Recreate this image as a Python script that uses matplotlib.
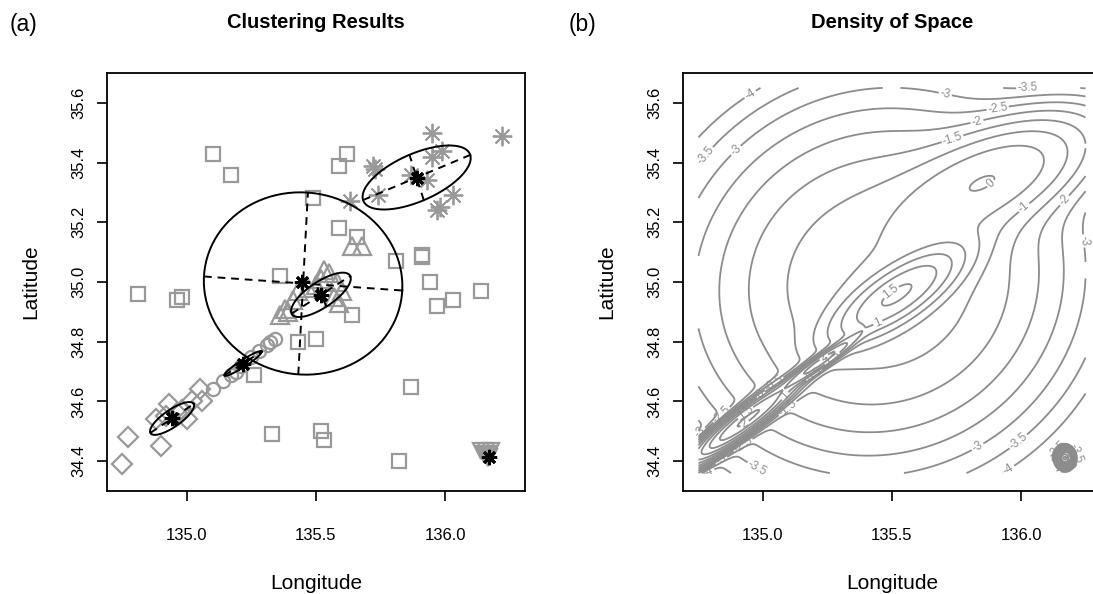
import numpy as np
import matplotlib.pyplot as plt

plt.rcParams["font.family"] = ["Liberation Sans", "DejaVu Sans"]
plt.rcParams["contour.negative_linestyle"] = "solid"

# ---- panel (a): clustered points (lon, lat) ----
sq_lon = [135.10, 135.17, 135.49, 135.36, 134.81, 134.96, 134.98, 135.62, 135.59, 135.59,
          135.66, 135.81, 135.91, 135.91, 135.94, 136.14, 136.03, 135.97, 135.64, 135.50,
          135.43, 135.87, 135.52, 135.53, 135.82, 135.26, 135.33]
sq_lat = [35.43, 35.36, 35.28, 35.02, 34.96, 34.94, 34.95, 35.43, 35.39, 35.18,
          35.15, 35.07, 35.09, 35.085, 35.00, 34.97, 34.94, 34.92, 34.89, 34.81,
          34.80, 34.65, 34.50, 34.47, 34.40, 34.69, 34.49]

tri_lon = [135.36, 135.38, 135.39, 135.41, 135.43, 135.47, 135.52, 135.55, 135.53, 135.58,
           135.59, 135.57, 135.64, 135.68, 135.50, 135.60]
tri_lat = [34.89, 34.91, 34.90, 34.94, 34.97, 34.98, 35.01, 35.03, 35.04, 35.00,
           34.93, 34.95, 35.12, 35.12, 34.99, 34.97]

circ_lon = [135.10, 135.14, 135.17, 135.19, 135.21, 135.25, 135.28, 135.31, 135.32, 135.34]
circ_lat = [34.64, 34.67, 34.69, 34.70, 34.72, 34.75, 34.77, 34.79, 34.80, 34.81]

dia_lon = [134.77, 134.90, 134.75, 134.93, 134.88, 135.00, 135.06, 135.05, 134.92, 134.96,
           134.98, 135.02]
dia_lat = [34.48, 34.45, 34.39, 34.59, 34.54, 34.54, 34.60, 34.64, 34.55, 34.56,
           34.57, 34.60]

ast_lon = [135.95, 136.22, 135.95, 135.99, 135.72, 135.73, 135.74, 135.63, 135.93, 136.03,
           135.98, 135.97, 135.87]
ast_lat = [35.50, 35.49, 35.42, 35.44, 35.39, 35.38, 35.29, 35.27, 35.34, 35.29,
           35.25, 35.24, 35.36]

dtri_lon = [136.14, 136.15, 136.16, 136.17, 136.18, 136.16, 136.17, 136.165]
dtri_lat = [34.435, 34.425, 34.435, 34.425, 34.435, 34.42, 34.415, 34.41]

center_lon = [135.446, 135.52, 135.217, 134.942, 135.89, 136.17]
center_lat = [35.00, 34.955, 34.727, 34.543, 35.35, 34.415]

# cluster ellipses: centre, semi-axes, angle (deg)
ell_lon = [135.45, 135.519, 135.217, 134.942, 135.89]
ell_lat = [34.995, 34.957, 34.727, 34.543, 35.35]
ell_a = [0.385, 0.13, 0.083, 0.097, 0.221]
ell_b = [0.305, 0.045, 0.012, 0.03, 0.081]
ell_ang = [-3.5, 29, 29, 30, 20]

# ---- panel (b): mixture components for the log density ----
dens_lon = [135.45, 135.519, 135.89, 135.22, 134.942, 136.17]
dens_lat = [35.00, 34.957, 35.35, 34.73, 34.543, 34.41]
dens_sd_major = [0.36, 0.15, 0.225, 0.09, 0.12, 0.012]
dens_sd_minor = [0.29, 0.047, 0.087, 0.012, 0.02, 0.012]
dens_angle = [8, 29, 20, 31, 33, 0]
dens_weight = [0.394, 0.19, 0.105, 0.06, 0.12, 0.02]

GRAY = "0.6"
XLIM = (134.69, 136.31)
YLIM = (34.3, 35.7)


def style_axes(ax):
    ax.set_xlim(*XLIM)
    ax.set_ylim(*YLIM)
    ax.set_xticks([135.0, 135.5, 136.0])
    ax.set_yticks([34.4, 34.6, 34.8, 35.0, 35.2, 35.4, 35.6])
    ax.tick_params(direction="out", length=7, width=1.2, labelsize=12)
    ax.tick_params(axis="x", pad=20)
    ax.tick_params(axis="y", pad=8, labelrotation=90)
    for lab in ax.get_yticklabels():
        lab.set_va("center")
    for s in ax.spines.values():
        s.set_linewidth(1.3)
    ax.set_xlabel("Longitude", fontsize=15, labelpad=22)
    ax.set_ylabel("Latitude", fontsize=15, labelpad=22)


def ellipse(ax, x0, y0, a, b, ang):
    t = np.linspace(0, 2 * np.pi, 200)
    th = np.deg2rad(ang)
    u = np.array([np.cos(th), np.sin(th)])
    v = np.array([-np.sin(th), np.cos(th)])
    xs = x0 + a * np.cos(t) * u[0] + b * np.sin(t) * v[0]
    ys = y0 + a * np.cos(t) * u[1] + b * np.sin(t) * v[1]
    ax.plot(xs, ys, color="black", lw=1.4, zorder=4)
    for vec, r in ((u, a), (v, b)):
        ax.plot([x0 - r * vec[0], x0 + r * vec[0]], [y0 - r * vec[1], y0 + r * vec[1]],
                color="black", lw=1.4, ls=(0, (4, 3)), zorder=4)


fig = plt.figure(figsize=(10.93, 5.94), dpi=100)
ax1 = fig.add_axes([107 / 1093, 103 / 594, 418 / 1093, 418 / 594])
ax2 = fig.add_axes([683 / 1093, 103 / 594, 418 / 1093, 418 / 594])

# (a) clustering results
mk = dict(ls="none", mfc="none", mec=GRAY, mew=1.6, zorder=2)
ax1.plot(sq_lon, sq_lat, marker="s", ms=10, **mk)
ax1.plot(tri_lon, tri_lat, marker="^", ms=13, **mk)
ax1.plot(circ_lon, circ_lat, marker="o", ms=9.5, **mk)
ax1.plot(dia_lon, dia_lat, marker="D", ms=10, **mk)
ax1.plot(dtri_lon, dtri_lat, marker="v", ms=12, **mk)
ax1.plot(ast_lon, ast_lat, marker=(8, 2, 0), ls="none", color=GRAY, ms=14, mew=1.3, zorder=2)
for i in range(len(ell_lon)):
    ellipse(ax1, ell_lon[i], ell_lat[i], ell_a[i], ell_b[i], ell_ang[i])
ax1.plot(center_lon, center_lat, marker=(8, 2, 0), ls="none", color="black", ms=11, mew=2,
         zorder=5)
style_axes(ax1)

# (b) density of space (log of a gaussian mixture)
gx = np.linspace(134.75, 136.25, 600)
gy = np.linspace(34.36, 35.65, 600)
X, Y = np.meshgrid(gx, gy)
dens = np.zeros_like(X)
for i in range(len(dens_lon)):
    th = np.deg2rad(dens_angle[i])
    dx = X - dens_lon[i]
    dy = Y - dens_lat[i]
    p = dx * np.cos(th) + dy * np.sin(th)
    q = -dx * np.sin(th) + dy * np.cos(th)
    sa, sb = dens_sd_major[i], dens_sd_minor[i]
    dens += dens_weight[i] / (2 * np.pi * sa * sb) * np.exp(-0.5 * ((p / sa) ** 2 + (q / sb) ** 2))
Z = np.log(dens)

levels = np.arange(-4, 4.01, 0.5)
cs = ax2.contour(X, Y, Z, levels=levels, colors="0.55", linewidths=1.3)
ax2.clabel(cs, fmt=lambda v: f"{v:g}", fontsize=8.5, inline=True, inline_spacing=2,
           colors="0.55")
style_axes(ax2)

fig.text(316 / 1093, 1 - 23 / 594, "Clustering Results", ha="center", va="center",
         fontsize=14.5, fontweight="bold")
fig.text(892 / 1093, 1 - 23 / 594, "Density of Space", ha="center", va="center",
         fontsize=14.5, fontweight="bold")
fig.text(10 / 1093, 1 - 25 / 594, "(a)", ha="left", va="center", fontsize=16.5)
fig.text(569 / 1093, 1 - 25 / 594, "(b)", ha="left", va="center", fontsize=16.5)

fig.savefig("out.png", dpi=100)
